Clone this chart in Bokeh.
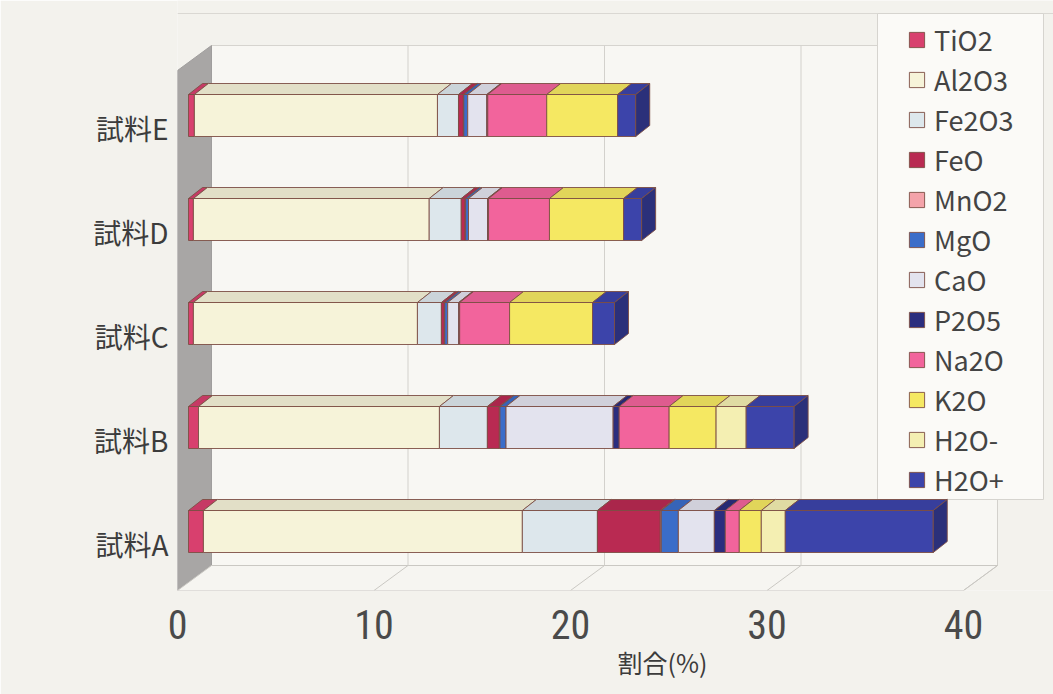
from bokeh.plotting import figure
from bokeh.models import (Range1d, FixedTicker, Legend, LegendItem, Title,
                          ColumnDataSource)
from bokeh.embed import file_html
from bokeh.resources import INLINE

# ---- data -------------------------------------------------------------
samples = ["試料A", "試料B", "試料C", "試料D", "試料E"]
oxides = ["TiO2", "Al2O3", "Fe2O3", "FeO", "MnO2", "MgO",
          "CaO", "P2O5", "Na2O", "K2O", "H2O-", "H2O+"]

TiO2 = [0.76, 0.51, 0.25, 0.25, 0.30]
Al2O3 = [16.23, 12.26, 11.40, 12.00, 12.37]
Fe2O3 = [3.82, 2.44, 1.22, 1.63, 1.07]
FeO = [3.20, 0.61, 0.15, 0.20, 0.25]
MnO2 = [0.05, 0.03, 0.02, 0.02, 0.02]
MgO = [0.87, 0.31, 0.15, 0.15, 0.20]
CaO = [1.83, 5.45, 0.56, 0.97, 0.97]
P2O5 = [0.56, 0.31, 0.05, 0.05, 0.05]
Na2O = [0.71, 2.54, 2.54, 3.10, 3.00]
K2O = [1.12, 2.39, 4.22, 3.77, 3.61]
H2O_minus = [1.22, 1.53, 0.0, 0.0, 0.0]
H2O_plus = [7.53, 2.44, 1.12, 0.92, 0.92]

series = [TiO2, Al2O3, Fe2O3, FeO, MnO2, MgO,
          CaO, P2O5, Na2O, K2O, H2O_minus, H2O_plus]

x_ticks = [0, 10, 20, 30, 40]
x_title = "割合(%)"

# ---- styling ----------------------------------------------------------
face_colors = ["#d8406e", "#f6f3d9", "#dde7ec", "#b92a52", "#f4a3aa", "#3b6dc9",
               "#e3e3ee", "#2b2d7e", "#f2649c", "#f5e862", "#f4efb2", "#3c44aa"]


def shade(hex_color, k):
    r, g, b = (int(hex_color[i:i + 2], 16) for i in (1, 3, 5))
    return "#%02x%02x%02x" % (int(r * k), int(g * k), int(b * k))


top_colors = [shade(c, 0.92) for c in face_colors]
side_colors = [shade(c, 0.72) for c in face_colors]
EDGE = "#7d4e44"
FONT = "Noto Sans CJK JP"
BG = "#f3f2ed"

W, H = 1053, 694
FRAME_L, FRAME_B = 177, 590          # frame left edge / bottom edge (px)
PX = 19.65                            # px per percent along the value axis
WALL_DX, WALL_DY = 34 / PX, 25        # depth of floor and side wall
BAR_OX = 11 / PX                      # bars sit a little behind the front edge
BAR_DX, BAR_DY = 14 / PX, 11          # depth of each bar
BAR_H = 42
FIRST_BOTTOM, PITCH = 552, 104
WALL_TOP = 45

p = figure(width=W, height=H, output_backend="svg", toolbar_location=None,
           x_range=Range1d(0, (W - FRAME_L) / PX),
           y_range=Range1d(FRAME_B, 0),
           min_border_left=FRAME_L, min_border_right=0,
           min_border_top=0, min_border_bottom=H - FRAME_B)
p.background_fill_color = BG
p.border_fill_color = BG
p.outline_line_color = None
p.xgrid.visible = False
p.ygrid.visible = False

x_max = x_ticks[-1]

# outer chart border line near the top
p.segment(x0=[0], y0=[13], x1=[(W - FRAME_L) / PX], y1=[13],
          line_color="#dad8d3", line_width=1)

# back wall, side wall and floor
p.quad(left=[WALL_DX], right=[x_max + WALL_DX], top=[WALL_TOP],
       bottom=[FRAME_B - WALL_DY], fill_color="#f8f7f3", line_color="#d6d4cf",
       line_width=1)
p.patch(x=[0, 0, WALL_DX, WALL_DX],
        y=[FRAME_B, WALL_TOP + WALL_DY, WALL_TOP, FRAME_B - WALL_DY],
        fill_color="#a8a6a5", line_color="#a09e9d", line_width=1)
p.patch(x=[0, x_max, x_max + WALL_DX, WALL_DX],
        y=[FRAME_B, FRAME_B, FRAME_B - WALL_DY, FRAME_B - WALL_DY],
        fill_color="#f6f5f1", line_color="#cac8c3", line_width=1)

# gridlines on the back wall and across the floor
grid_v = [t for t in x_ticks if t > 0]
p.segment(x0=[t + WALL_DX for t in grid_v], y0=[WALL_TOP] * len(grid_v),
          x1=[t + WALL_DX for t in grid_v], y1=[FRAME_B - WALL_DY] * len(grid_v),
          line_color="#d3d1cc", line_width=1)
p.segment(x0=grid_v, y0=[FRAME_B] * len(grid_v),
          x1=[t + WALL_DX for t in grid_v], y1=[FRAME_B - WALL_DY] * len(grid_v),
          line_color="#cac8c3", line_width=1)

# legend box
LEG_L, LEG_R, LEG_T, LEG_B = 877, 1043, 13, 499
p.quad(left=[(LEG_L - FRAME_L) / PX], right=[(LEG_R - FRAME_L) / PX],
       top=[LEG_T], bottom=[LEG_B], fill_color="#fbfaf7",
       line_color="#d6d4cf", line_width=1)

# ---- stacked 3D bars ---------------------------------------------------
bottoms = [FIRST_BOTTOM - PITCH * i for i in range(len(samples))]
totals = [sum(s[i] for s in series) for i in range(len(samples))]

legend_items = []
for j, name in enumerate(oxides):
    fl, fr, ft, fb = [], [], [], []
    txs, tys = [], []
    for i in range(len(samples)):
        v = series[j][i]
        if v <= 0:
            continue
        x0 = sum(series[k][i] for k in range(j)) + BAR_OX
        x1 = x0 + v
        top, bot = bottoms[i] - BAR_H, bottoms[i]
        fl.append(x0); fr.append(x1); ft.append(top); fb.append(bot)
        txs.append([x0, x1, x1 + BAR_DX, x0 + BAR_DX])
        tys.append([top, top, top - BAR_DY, top - BAR_DY])
    front = p.quad(source=ColumnDataSource(dict(left=fl, right=fr, top=ft, bottom=fb)),
                   left="left", right="right", top="top", bottom="bottom",
                   fill_color=face_colors[j], line_color=EDGE, line_width=0.9)
    p.patches(source=ColumnDataSource(dict(xs=txs, ys=tys)), xs="xs", ys="ys",
              fill_color=top_colors[j], line_color=EDGE, line_width=0.9)
    legend_items.append(LegendItem(label=name, renderers=[front]))

# visible end cap of each bar
last_idx = [max(j for j in range(len(series)) if series[j][i] > 0)
            for i in range(len(samples))]
sxs, sys_, scol = [], [], []
for i in range(len(samples)):
    xe = totals[i] + BAR_OX
    top, bot = bottoms[i] - BAR_H, bottoms[i]
    sxs.append([xe, xe + BAR_DX, xe + BAR_DX, xe])
    sys_.append([bot, bot - BAR_DY, top - BAR_DY, top])
    scol.append(side_colors[last_idx[i]])
p.patches(source=ColumnDataSource(dict(xs=sxs, ys=sys_, c=scol)), xs="xs", ys="ys",
          fill_color="c", line_color=EDGE, line_width=0.9)

# ---- axes -------------------------------------------------------------
xa = p.xaxis[0]
xa.ticker = FixedTicker(ticks=x_ticks)
xa.axis_line_color = None
xa.major_tick_line_color = None
xa.minor_tick_line_color = None
xa.major_label_standoff = 13
xa.major_label_text_font = "'Liberation Sans Narrow', 'Roboto Condensed', Roboto"
xa.major_label_text_font_size = "40px"
xa.major_label_text_color = "#4a4a4a"

label_ys = [b - 9 for b in bottoms]
ya = p.yaxis[0]
ya.ticker = FixedTicker(ticks=label_ys)
ya.major_label_overrides = {y: s for y, s in zip(label_ys, samples)}
ya.axis_line_color = None
ya.major_tick_line_color = None
ya.minor_tick_line_color = None
ya.major_label_standoff = 3
ya.major_label_text_font = FONT
ya.major_label_text_font_size = "28px"
ya.major_label_text_color = "#3c3c3c"

# axis title, placed right of the frame centre
p.add_layout(Title(text=x_title, align="left", offset=440, standoff=0,
                   text_font=FONT, text_font_size="25px", text_font_style="normal",
                   text_color="#3c3c3c", background_fill_color=None), "below")

legend = Legend(items=legend_items, location=(720, 81),
                glyph_width=19, glyph_height=19, label_height=26,
                spacing=1, padding=10, label_standoff=8,
                label_text_font=FONT, label_text_font_size="27px",
                label_text_color="#444444",
                background_fill_alpha=0, border_line_alpha=0)
p.add_layout(legend)

open("out.html", "w").write(file_html(p, INLINE))
